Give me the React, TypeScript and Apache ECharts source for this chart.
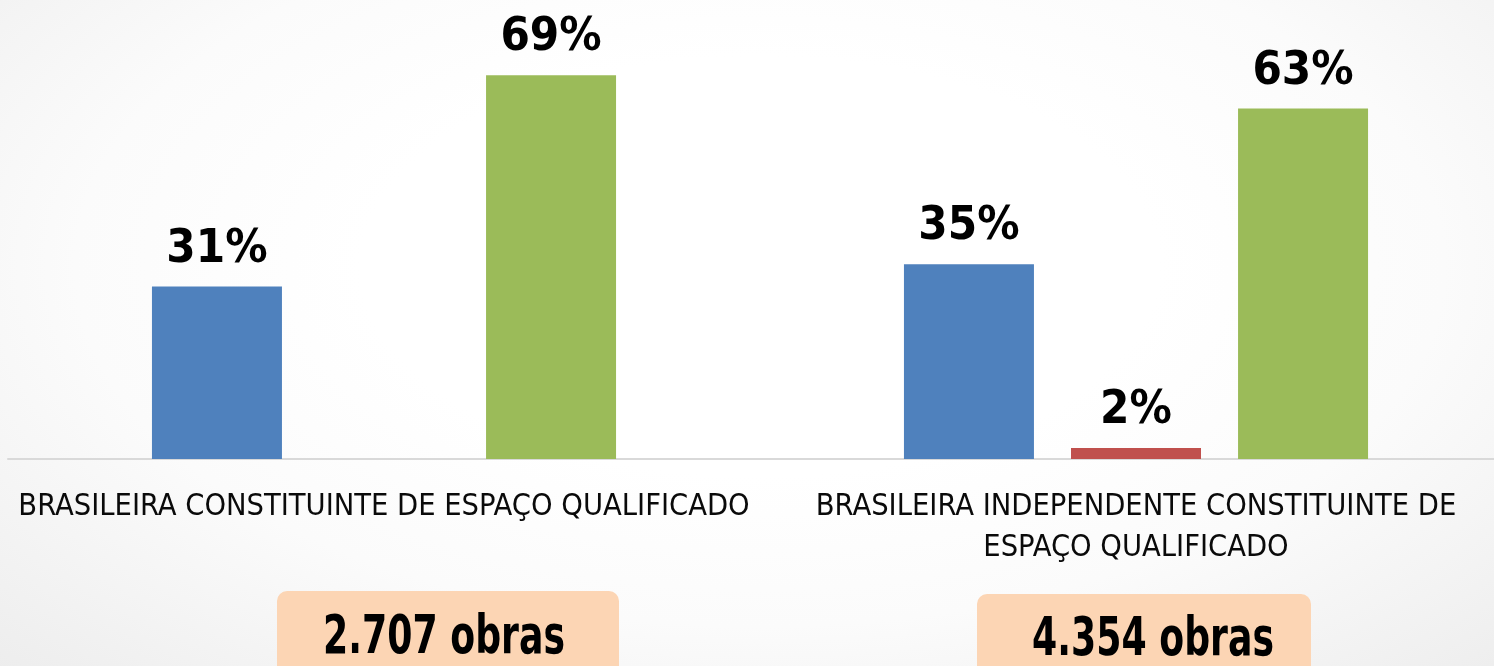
import React, { useEffect, useRef } from "react";
import * as echarts from "echarts";

const categories = [
  "BRASILEIRA CONSTITUINTE DE ESPAÇO QUALIFICADO",
  "BRASILEIRA INDEPENDENTE CONSTITUINTE DE\nESPAÇO QUALIFICADO",
];
const blueValues = [31, 35];
const redValues: (number | string)[] = ["-", 2];
const greenValues = [69, 63];
const totals = ["2.707 obras", "4.354 obras"];

const NARROW = "'Liberation Sans Narrow', 'Arial Narrow', 'DejaVu Sans Condensed', sans-serif";

export default function App() {
  const ref = useRef<HTMLDivElement>(null);
  useEffect(() => {
    if (!ref.current) return;
    const chart = echarts.init(ref.current, null, { renderer: "svg" });
    const label = {
      show: true,
      position: "top",
      distance: 18,
      formatter: "{c}%",
      fontFamily: NARROW,
      fontWeight: "bold",
      fontSize: 47,
      color: "#000",
    };
    const mk = (name: string, data: any[], color: string) => ({
      name,
      type: "bar",
      data,
      barWidth: 130,
      barGap: "28.5%",
      itemStyle: { color },
      label,
    });
    const totalText = (t: string, x: number, y: number) => ({
      type: "text",
      x,
      y,
      scaleX: 0.76,
      style: {
        text: t,
        fontFamily: NARROW,
        fontWeight: "bold",
        fontSize: 53,
        fill: "#000",
        align: "center",
        verticalAlign: "middle",
      },
    });
    chart.setOption({
      animation: false,
      backgroundColor: "transparent",
      grid: { left: 8, width: 1504, top: 14, bottom: 207, containLabel: false },
      xAxis: {
        type: "category",
        data: categories,
        axisTick: { show: false },
        axisLine: { lineStyle: { color: "#d9d9d9", width: 2 } },
        axisLabel: {
          interval: 0,
          margin: 25,
          fontFamily: NARROW,
          fontSize: 30.5,
          lineHeight: 41,
          color: "#0a0a0a",
        },
      },
      yAxis: { type: "value", min: 0, max: 80, show: false, splitLine: { show: false } },
      series: [
        mk("Azul", blueValues, "#4f81bd"),
        mk("Vermelho", redValues, "#c0504d"),
        mk("Verde", greenValues, "#9bbb59"),
      ],
      graphic: [
        { type: "rect", shape: { x: 277, y: 591, width: 342, height: 100, r: 10 }, style: { fill: "#fcd5b4" } },
        { type: "rect", shape: { x: 977, y: 594, width: 334, height: 100, r: 10 }, style: { fill: "#fcd5b4" } },
        totalText(totals[0], 444, 634),
        totalText(totals[1], 1153, 636),
      ],
    });
    return () => chart.dispose();
  }, []);
  return (
    <div
      ref={ref}
      style={{
        position: "fixed",
        left: 0,
        top: 0,
        width: 1520,
        height: 666,
        background: "radial-gradient(ellipse 75% 90% at 50% 40%, #ffffff 35%, #fbfbfb 60%, #ebebeb 100%)",
      }}
    />
  );
}
